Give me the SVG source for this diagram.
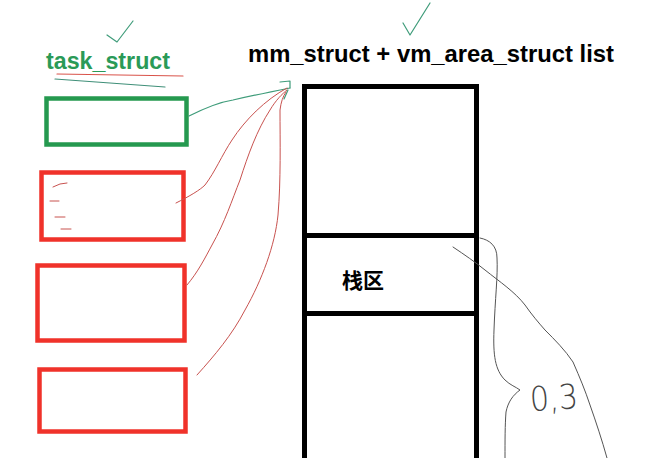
<svg xmlns="http://www.w3.org/2000/svg" width="664" height="458" viewBox="0 0 664 458">
<style>
.box{fill:none;stroke-width:4.5}
.g{stroke:#25994f}
.r{stroke:#f0322a}
.pen{fill:none;stroke-linecap:round;stroke-linejoin:round}
.red{stroke:#c8524f;stroke-width:1}
.grn{stroke:#3f9c7a;stroke-width:1.2}
.gry{stroke:#555;stroke-width:1}
.title{font-family:"Liberation Sans","Noto Sans CJK SC",sans-serif;font-weight:bold}
</style>
<rect width="664" height="458" fill="#fff"/>

<g id="title-task">
<text class="title" x="46" y="69" font-size="23" fill="#2a9a57" textLength="124" lengthAdjust="spacingAndGlyphs">task_struct</text>
<path class="pen" d="M57 74 L120 75 L183 76" stroke="#d9534a" stroke-width="1.2"/>
<path class="pen" d="M55 79 L110 83 L165 87" stroke="#3f8f78" stroke-width="1.2"/>
<path class="pen grn" d="M107 35 L117 42 L133 21"/>
</g>

<g id="title-mm">
<text class="title" x="248" y="62" font-size="24" fill="#000" textLength="366" lengthAdjust="spacingAndGlyphs">mm_struct + vm_area_struct list</text>
<path class="pen grn" d="M403 23 L410 35 L430 3"/>
</g>

<g id="task-green"><rect class="box g" x="46.5" y="98.5" width="140" height="46"/></g>
<g id="task-red-1">
<rect class="box r" x="41.5" y="172.5" width="142" height="67"/>
<path class="pen red" d="M53 187 L60 184 L67 183 M50 201 L59 201 M55 217 L65 217 M61 229 L71 229" stroke-width="1.3"/>
</g>
<g id="task-red-2"><rect class="box r" x="37.5" y="265.5" width="147" height="75"/></g>
<g id="task-red-3"><rect class="box r" x="39.5" y="369.5" width="146" height="62"/></g>

<g id="memory">
<path d="M304.5 458 V86.5 H476.5 V458" fill="none" stroke="#000" stroke-width="5"/>
<line x1="304.5" y1="235.5" x2="476.5" y2="235.5" stroke="#000" stroke-width="5"/>
<line x1="304.5" y1="313.5" x2="476.5" y2="313.5" stroke="#000" stroke-width="5"/>
<text x="342" y="288" font-family="'Noto Sans CJK SC',sans-serif" font-weight="bold" font-size="21" fill="#000">栈区</text>
</g>

<g id="connectors">
<path class="pen grn" d="M189 116 C205 108 220 102 233 100 C255 95 275 91 290 88"/>
<path class="pen grn" d="M280 82 L290 81 L290 88 M284 99 L288 90"/>
<path class="pen red" d="M176 203 C190 196 200 190 205 185 C215 172 222 155 232 140 C245 120 265 100 287 88"/>
<path class="pen red" d="M187 285 C198 272 205 258 212 245 C225 222 232 200 240 180 C248 155 257 130 270 110 C276 100 282 94 287 90"/>
<path class="pen red" d="M197 375 C215 355 232 335 245 310 C262 280 275 245 278 215 C281 180 280 140 280 110 C281 102 283 96 286 92"/>
<path class="pen gry" d="M453 247 C465 255 475 262 485 270 C500 282 515 292 525 305 C532 315 538 322 545 330 C555 340 565 350 573 362 C580 378 585 390 590 405 C596 422 602 440 607 458"/>
<path class="pen gry" d="M480 238 C490 240 497 246 497 258 C498 275 495 300 494 330 C493 355 495 370 505 380 C510 385 516 387 520 390 C513 395 508 402 506 412 C505 425 505 440 505 458"/>
<text x="530" y="410" font-family="'DejaVu Sans',sans-serif" font-weight="200" font-size="34" fill="#444" transform="rotate(-4 550 400)" textLength="48" lengthAdjust="spacingAndGlyphs">0,3</text>
</g>
</svg>
